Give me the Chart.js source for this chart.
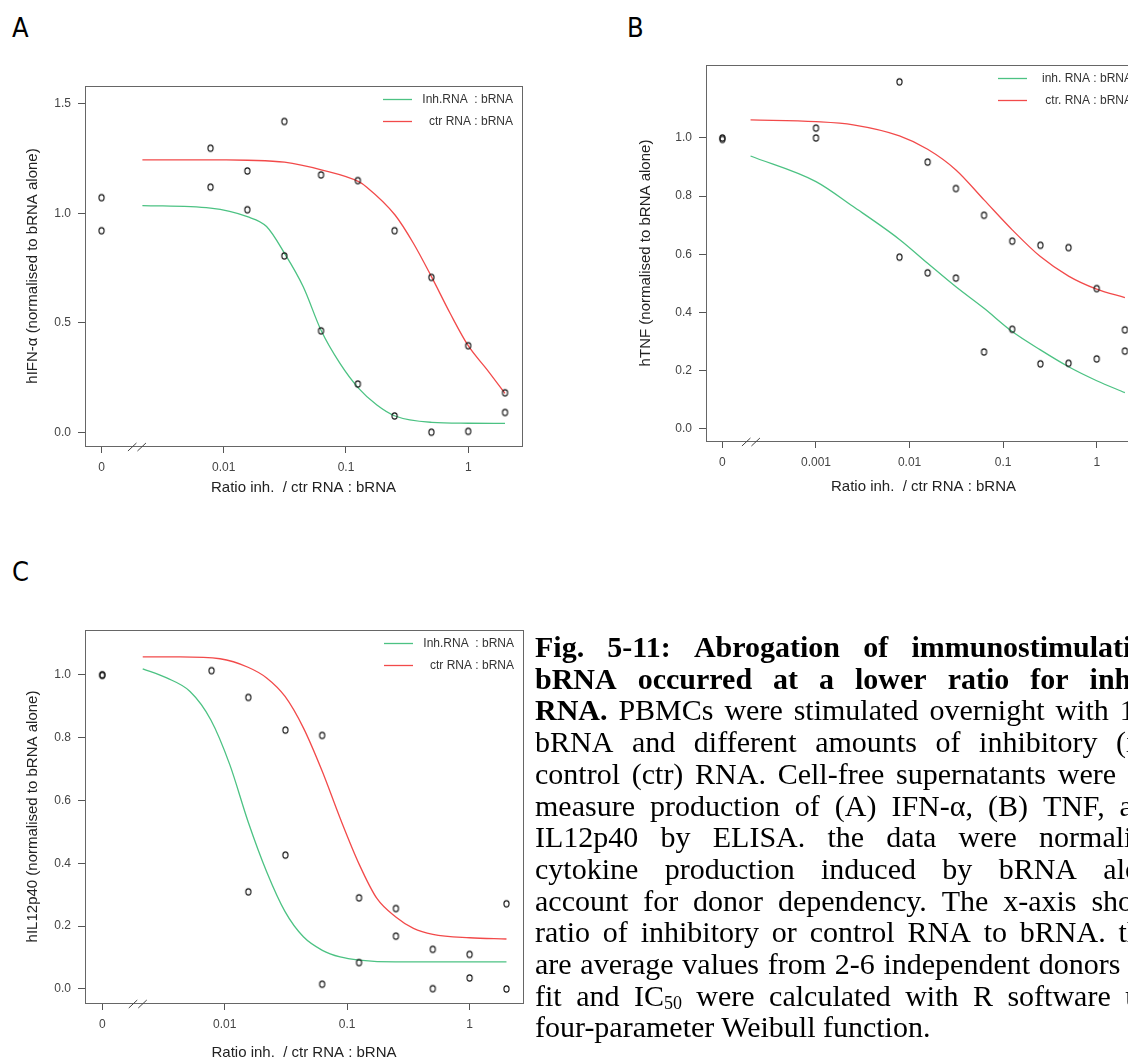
<!DOCTYPE html>
<html>
<head>
<meta charset="utf-8">
<script src="https://cdn.jsdelivr.net/npm/chart.js@4.4.1/dist/chart.umd.min.js"></script>
<style>
html,body{margin:0;padding:0;overflow:hidden;background:#fff;}
#page{position:relative;width:1128px;height:1062px;overflow:hidden;background:#fff;}
canvas{position:absolute;}
.lab{position:absolute;font-family:"Liberation Sans Narrow","DejaVu Sans Condensed",sans-serif;font-size:27px;color:#000;}
#cap{position:absolute;left:535px;top:631px;width:683px;font-family:"Liberation Serif","Times New Roman",serif;font-size:30px;line-height:31.7px;color:#000;}
#cap .ln{display:flex;justify-content:space-between;white-space:nowrap;}
#cap .bold{font-weight:bold;}
#cap sub{font-size:18px;line-height:0;vertical-align:-3px;}
</style>
</head>
<body>
<div id="page">
  <div class="lab" style="left:12px;top:12px;">A</div>
  <div class="lab" style="left:627px;top:12px;">B</div>
  <div class="lab" style="left:12px;top:556px;">C</div>
  <canvas id="chartA" width="560" height="450" style="left:0px;top:60px;"></canvas>
  <canvas id="chartB" width="600" height="470" style="left:621px;top:40px;"></canvas>
  <canvas id="chartC" width="560" height="462" style="left:0px;top:600px;"></canvas>
  <div id="cap"></div>
</div>
<script>
// measured points (0 = bRNA alone, drawn left of the axis break)
let ratiosA = [0, 0.0078, 0.0156, 0.0313, 0.0625, 0.125, 0.25, 0.5, 1, 2];
let upperA = [1.072, 1.298, 1.194, 1.42, 1.176, 1.15, 0.921, 0.708, 0.396, 0.181];
let lowerA = [0.921, 1.12, 1.017, 0.806, 0.464, 0.221, 0.075, 0.001, 0.005, 0.091];

let ratiosB = [0, 0.001, 0.0078, 0.0156, 0.0313, 0.0625, 0.125, 0.25, 0.5, 1, 2];
let upperB = [1.0, 1.034, 1.193, 0.917, 0.826, 0.734, 0.645, 0.631, 0.623, 0.482, 0.34];
let lowerB = [0.995, 1.0, 0.59, 0.536, 0.518, 0.264, 0.342, 0.223, 0.225, 0.24, 0.267];

let ratiosC = [0, 0.0078, 0.0156, 0.0313, 0.0625, 0.125, 0.25, 0.5, 1, 2];
let upperC = [1.0, 1.013, 0.928, 0.824, 0.807, 0.29, 0.256, 0.126, 0.11, 0.271];
let lowerC = [0.998, null, 0.309, 0.426, 0.015, 0.084, 0.168, 0.001, 0.035, 0.0];

// fitted curves
let inhCurveXA = [0.00216, 0.0078, 0.0156, 0.0224, 0.0314, 0.0447, 0.0628, 0.0893, 0.127, 0.179, 0.252, 0.504, 1, 2];
let inhCurveYA = [1.036, 1.024, 0.985, 0.94, 0.818, 0.665, 0.464, 0.315, 0.201, 0.125, 0.075, 0.046, 0.042, 0.041];
let ctrCurveXA = [0.00216, 0.0105, 0.0156, 0.0314, 0.0628, 0.127, 0.148, 0.252, 0.356, 0.504, 0.711, 1, 1.42, 2];
let ctrCurveYA = [1.245, 1.245, 1.243, 1.234, 1.199, 1.145, 1.12, 0.993, 0.864, 0.708, 0.544, 0.396, 0.288, 0.178];

let curveXB = [0.0002, 0.001, 0.0025, 0.0078, 0.0156, 0.0313, 0.0625, 0.125, 0.25, 0.5, 1, 2];
let inhCurveYB = [0.938, 0.85, 0.764, 0.651, 0.569, 0.488, 0.414, 0.334, 0.271, 0.213, 0.165, 0.124];
let ctrCurveYB = [1.062, 1.056, 1.045, 1.007, 0.961, 0.89, 0.787, 0.684, 0.592, 0.525, 0.48, 0.451];

let inhCurveXC = [0.00214, 0.00336, 0.00521, 0.00769, 0.011, 0.0155, 0.022, 0.0311, 0.0439, 0.0627, 0.0875, 0.126, 0.248, 2];
let inhCurveYC = [1.019, 0.99, 0.947, 0.857, 0.714, 0.533, 0.373, 0.246, 0.166, 0.123, 0.102, 0.092, 0.086, 0.086];
let ctrCurveXC = [0.00214, 0.00432, 0.00916, 0.0155, 0.022, 0.0311, 0.0439, 0.0627, 0.0875, 0.126, 0.175, 0.248, 0.348, 0.501, 1, 2];
let ctrCurveYC = [1.057, 1.057, 1.051, 1.024, 0.99, 0.931, 0.831, 0.692, 0.544, 0.395, 0.288, 0.23, 0.193, 0.174, 0.163, 0.159];

let xTicksAC = [0, 0.01, 0.1, 1];
let xTicksB = [0, 0.001, 0.01, 0.1, 1];
let yTicksA = [0, 0.5, 1.0, 1.5];
let yTicksBC = [0, 0.2, 0.4, 0.6, 0.8, 1.0];

let legendAC = ['Inh.RNA  : bRNA', 'ctr RNA : bRNA'];
let legendB = ['inh. RNA : bRNA', 'ctr. RNA : bRNA'];

let GREEN = '#4cc283';
let RED = '#f24a4a';
let SANS = '"Liberation Sans", Arial, sans-serif';

function ring() {
  let c = document.createElement('canvas');
  c.width = 9; c.height = 10;
  let g = c.getContext('2d');
  g.strokeStyle = '#1a1a1a';
  g.lineWidth = 1.1;
  g.beginPath();
  g.ellipse(4.5, 5, 2.6, 3.1, 0, 0, Math.PI * 2);
  g.stroke();
  return c;
}
let ringImg = ring();

let frame = {
  id: 'frame',
  afterDatasetsDraw(chart, args, opts) {
    let ctx = chart.ctx;
    let a = chart.chartArea;
    ctx.save();
    ctx.strokeStyle = '#666';
    ctx.lineWidth = 1;
    ctx.strokeRect(Math.round(a.left) + 0.5, Math.round(a.top) + 0.5, Math.round(a.right - a.left), Math.round(a.bottom - a.top));
    // axis break
    let bx = chart.scales.x.getPixelForValue(opts.breakAt);
    let by = Math.round(a.bottom) + 0.5;
    ctx.strokeStyle = '#444';
    ctx.beginPath();
    ctx.moveTo(bx - 9, by + 4.5); ctx.lineTo(bx - 0.5, by - 3.5);
    ctx.moveTo(bx + 0.5, by + 4.5); ctx.lineTo(bx + 9, by - 3.5);
    ctx.stroke();
    // legend inside the box
    ctx.font = '12px ' + SANS;
    ctx.fillStyle = '#333';
    ctx.textAlign = 'right';
    ctx.textBaseline = 'middle';
    let lines = chart.data.datasets.filter(d => d.type === 'line');
    lines.forEach((d, i) => {
      let y = Math.round(a.top + 12.5 + i * 22.4) + 0.5;
      ctx.strokeStyle = d.borderColor;
      ctx.lineWidth = 1.3;
      ctx.beginPath();
      ctx.moveTo(a.right - opts.lineOff, y);
      ctx.lineTo(a.right - opts.lineOff + 29, y);
      ctx.stroke();
      ctx.fillText(d.label, a.right - 9, y);
    });
    ctx.restore();
  }
};

function makePanel(id, p) {
  let toX = r => r === 0 ? p.zeroAt : Math.log10(r);
  let pts = [];
  p.ratios.forEach((r, i) => {
    if (p.upper[i] != null) pts.push({x: toX(r), y: p.upper[i]});
    if (p.lower[i] != null) pts.push({x: toX(r), y: p.lower[i]});
  });
  let curve = (xs, ys) => xs.map((r, i) => ({x: toX(r), y: ys[i]}));
  let xLabel = v => {
    let t = p.xTicks.find(r => Math.abs(toX(r) - v) < 1e-6);
    return t === undefined ? '' : String(t);
  };
  let tickFont = {family: SANS, size: 12};
  let titleFont = {family: SANS, size: 15};
  return new Chart(document.getElementById(id), {
    type: 'scatter',
    data: {
      datasets: [
        {type: 'scatter', label: 'data', data: pts, pointStyle: ringImg, pointRadius: 4, order: 0},
        {type: 'line', label: p.legend[0], data: curve(p.inhX, p.inhY), borderColor: GREEN, borderWidth: 1.3, pointRadius: 0, cubicInterpolationMode: 'monotone', fill: false, order: 1},
        {type: 'line', label: p.legend[1], data: curve(p.ctrX, p.ctrY), borderColor: RED, borderWidth: 1.3, pointRadius: 0, cubicInterpolationMode: 'monotone', fill: false, order: 1}
      ]
    },
    options: {
      responsive: false,
      animation: false,
      devicePixelRatio: 1,
      layout: {padding: p.pad},
      plugins: {
        legend: {display: false},
        tooltip: {enabled: false},
        frame: {breakAt: p.breakAt, lineOff: p.lineOff}
      },
      scales: {
        x: {
          type: 'linear', min: p.xMin, max: p.xMax,
          afterFit: s => { s.height = p.xh; },
          afterBuildTicks: s => { s.ticks = p.xTicks.map(r => ({value: toX(r)})); },
          ticks: {callback: v => xLabel(v), font: tickFont, color: '#444', padding: 7, maxRotation: 0, autoSkip: false},
          grid: {drawOnChartArea: false, drawTicks: true, tickLength: 7, color: '#555'},
          border: {display: false},
          title: {display: true, text: 'Ratio inh.  / ctr RNA : bRNA', font: titleFont, color: '#222', padding: {bottom: p.xTitlePad, top: 0}}
        },
        y: {
          type: 'linear', min: p.yMin, max: p.yMax,
          afterFit: s => { s.width = p.yw; },
          afterBuildTicks: s => { s.ticks = p.yTicks.map(v => ({value: v})); },
          ticks: {callback: v => v.toFixed(1), font: tickFont, color: '#444', padding: 7, autoSkip: false},
          grid: {drawOnChartArea: false, drawTicks: true, tickLength: 7, color: '#555'},
          border: {display: false},
          title: {display: true, text: p.yTitle, font: titleFont, color: '#222', padding: {top: p.yTitlePad, bottom: 0}}
        }
      }
    },
    plugins: [frame]
  });
}

makePanel('chartA', {
  ratios: ratiosA, upper: upperA, lower: lowerA,
  inhX: inhCurveXA, inhY: inhCurveYA, ctrX: ctrCurveXA, ctrY: ctrCurveYA,
  zeroAt: -3, breakAt: -2.71, xMin: -3.135, xMax: 0.44, yMin: -0.062, yMax: 1.582,
  xTicks: xTicksAC, yTicks: yTicksA, legend: legendAC, lineOff: 139,
  yTitle: 'hIFN-α (normalised to bRNA alone)',
  pad: {left: 0, top: 26, right: 38, bottom: 0}, xh: 64, yw: 85, xTitlePad: 13, yTitlePad: 24
});

makePanel('chartB', {
  ratios: ratiosB, upper: upperB, lower: lowerB,
  inhX: curveXB, inhY: inhCurveYB, ctrX: curveXB, ctrY: ctrCurveYB,
  zeroAt: -4, breakAt: -3.695, xMin: -4.175, xMax: 0.473, yMin: -0.0423, yMax: 1.251,
  xTicks: xTicksB, yTicks: yTicksBC, legend: legendB, lineOff: 143,
  yTitle: 'hTNF (normalised to bRNA alone)',
  pad: {left: 0, top: 25, right: 80, bottom: 0}, xh: 69, yw: 85, xTitlePad: 14, yTitlePad: 16
});

makePanel('chartC', {
  ratios: ratiosC, upper: upperC, lower: lowerC,
  inhX: inhCurveXC, inhY: inhCurveYC, ctrX: ctrCurveXC, ctrY: ctrCurveYC,
  zeroAt: -3, breakAt: -2.71, xMin: -3.141, xMax: 0.436, yMin: -0.0447, yMax: 1.1425,
  xTicks: xTicksAC, yTicks: yTicksBC, legend: legendAC, lineOff: 139,
  yTitle: 'hIL12p40 (normalised to bRNA alone)',
  pad: {left: 0, top: 30, right: 37, bottom: 0}, xh: 59, yw: 85, xTitlePad: 0, yTitlePad: 24
});

let captionLines = [
  'Fig. 5-11: Abrogation of immunostimulation by',
  'bRNA occurred at a lower ratio for inhibitory',
  '<b>RNA.</b> PBMCs were stimulated overnight with 1 µg/ml',
  'bRNA and different amounts of inhibitory (inh) or',
  'control (ctr) RNA. Cell-free supernatants were used to',
  'measure production of (A) IFN-α, (B) TNF, and (C)',
  'IL12p40 by ELISA. the data were normalised to',
  'cytokine production induced by bRNA alone to',
  'account for donor dependency. The x-axis shows the',
  'ratio of inhibitory or control RNA to bRNA. the data',
  'are average values from 2-6 independent donors and the',
  'fit and IC<sub>50</sub> were calculated with R software using a',
  'four-parameter Weibull function.'
];
let cap = document.getElementById('cap');
let html = '';
captionLines.forEach((ln, i) => {
  if (i === captionLines.length - 1) {
    html += '<div>' + ln + '</div>';
    return;
  }
  let words = ln.split(' ').map(w => '<span>' + w + '</span>').join('');
  html += '<div class="ln' + (i < 2 ? ' bold' : '') + '">' + words + '</div>';
});
cap.innerHTML = html;
</script>
</body>
</html>
